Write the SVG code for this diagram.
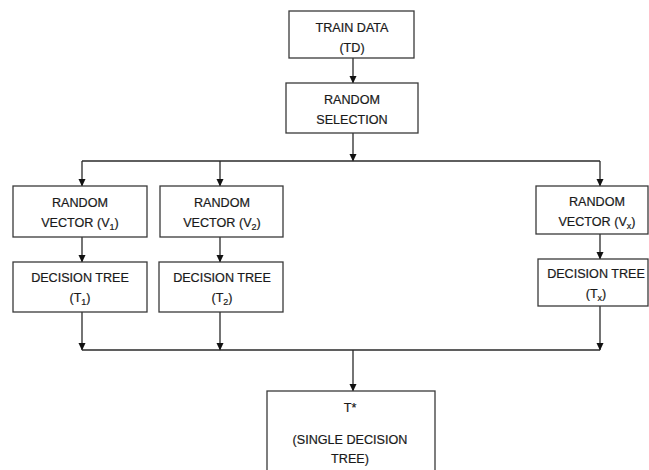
<svg xmlns="http://www.w3.org/2000/svg" width="649" height="470" viewBox="0 0 649 470">
<style>
.box{fill:#fff;stroke:#3a3a3a;stroke-width:1.3}
.t{font-family:"Liberation Sans",Arial,sans-serif;font-size:12.6px;fill:#1a1a1a;stroke:#1a1a1a;stroke-width:0.2;text-anchor:middle}
.s{font-size:9px}
.c{fill:none;stroke:#2a2a2a;stroke-width:1.3}
</style>
<defs>
<marker id="ah" markerWidth="8" markerHeight="8" refX="7" refY="4" orient="auto" markerUnits="userSpaceOnUse">
<path d="M0,0.5 L7.5,4 L0,7.5 Z" fill="#111"/>
</marker>
</defs>
<rect width="649" height="470" fill="#fff"/>
<g id="connectors">
<line class="c" x1="353" y1="58" x2="353" y2="83" marker-end="url(#ah)"/>
<line class="c" x1="353" y1="133" x2="353" y2="161" marker-end="url(#ah)"/>
<line class="c" x1="82" y1="161" x2="600" y2="161"/>
<line class="c" x1="82" y1="161" x2="82" y2="186" marker-end="url(#ah)"/>
<line class="c" x1="220" y1="161" x2="220" y2="186" marker-end="url(#ah)"/>
<line class="c" x1="600" y1="161" x2="600" y2="186" marker-end="url(#ah)"/>
<line class="c" x1="82" y1="237" x2="82" y2="262" marker-end="url(#ah)"/>
<line class="c" x1="220" y1="237" x2="220" y2="262" marker-end="url(#ah)"/>
<line class="c" x1="600" y1="234" x2="600" y2="259" marker-end="url(#ah)"/>
<line class="c" x1="82" y1="312" x2="82" y2="350" marker-end="url(#ah)"/>
<line class="c" x1="220" y1="312" x2="220" y2="350" marker-end="url(#ah)"/>
<line class="c" x1="600" y1="306" x2="600" y2="350" marker-end="url(#ah)"/>
<line class="c" x1="82" y1="350" x2="600" y2="350"/>
<line class="c" x1="353" y1="350" x2="353" y2="391" marker-end="url(#ah)"/>
</g>
<g id="train-data">
<rect class="box" x="289" y="11" width="125" height="47"/>
<text class="t" x="352" y="32">TRAIN DATA</text>
<text class="t" x="352" y="52">(TD)</text>
</g>
<g id="random-selection">
<rect class="box" x="286" y="83" width="132" height="50"/>
<text class="t" x="352" y="104">RANDOM</text>
<text class="t" x="352" y="124">SELECTION</text>
</g>
<g id="random-vector-1">
<rect class="box" x="13" y="186" width="134" height="51"/>
<text class="t" x="80" y="207">RANDOM</text>
<text class="t" x="80" y="227">VECTOR (V<tspan class="s" dy="3">1</tspan><tspan dy="-3">)</tspan></text>
</g>
<g id="random-vector-2">
<rect class="box" x="160" y="186" width="123" height="51"/>
<text class="t" x="222" y="207">RANDOM</text>
<text class="t" x="222" y="227">VECTOR (V<tspan class="s" dy="3">2</tspan><tspan dy="-3">)</tspan></text>
</g>
<g id="random-vector-x">
<rect class="box" x="536" y="186" width="112" height="48"/>
<text class="t" x="597" y="206">RANDOM</text>
<text class="t" x="597" y="226">VECTOR (V<tspan class="s" dy="3">x</tspan><tspan dy="-3">)</tspan></text>
</g>
<g id="decision-tree-1">
<rect class="box" x="13" y="262" width="134" height="50"/>
<text class="t" x="80" y="282">DECISION TREE</text>
<text class="t" x="80" y="302">(T<tspan class="s" dy="3">1</tspan><tspan dy="-3">)</tspan></text>
</g>
<g id="decision-tree-2">
<rect class="box" x="159" y="262" width="124" height="50"/>
<text class="t" x="222" y="282">DECISION TREE</text>
<text class="t" x="222" y="302">(T<tspan class="s" dy="3">2</tspan><tspan dy="-3">)</tspan></text>
</g>
<g id="decision-tree-x">
<rect class="box" x="538" y="259" width="110" height="47"/>
<text class="t" x="596" y="278">DECISION TREE</text>
<text class="t" x="596" y="298">(T<tspan class="s" dy="3">x</tspan><tspan dy="-3">)</tspan></text>
</g>
<g id="single-decision-tree">
<rect class="box" x="267" y="391" width="168" height="90"/>
<text class="t" x="350" y="412">T*</text>
<text class="t" x="350" y="444">(SINGLE DECISION</text>
<text class="t" x="350" y="463">TREE)</text>
</g>
</svg>
